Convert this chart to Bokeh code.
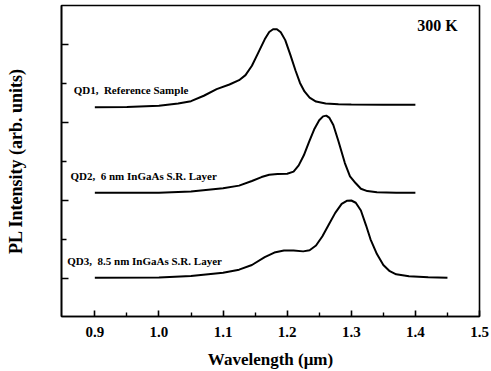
from bokeh.plotting import figure
from bokeh.models import FixedTicker, Range1d, Label, CustomJSTickFormatter
from bokeh.embed import file_html
from bokeh.resources import INLINE

# ---- data (curves are vertically stacked, arb. units) ----
qd1_x = [0.90, 0.95, 1.00, 1.03, 1.05, 1.07, 1.09, 1.11, 1.125, 1.135, 1.145, 1.155,
         1.165, 1.172, 1.178, 1.184, 1.19, 1.197, 1.205, 1.213, 1.22, 1.227, 1.235,
         1.245, 1.26, 1.28, 1.30, 1.35, 1.40]
qd1_y = [2.198, 2.200, 2.216, 2.245, 2.275, 2.345, 2.43, 2.49, 2.545, 2.61, 2.73, 2.90,
         3.07, 3.165, 3.20, 3.20, 3.16, 3.06, 2.87, 2.67, 2.51, 2.40, 2.32,
         2.27, 2.245, 2.235, 2.232, 2.23, 2.229]

qd2_x = [0.90, 1.00, 1.05, 1.10, 1.125, 1.145, 1.16, 1.172, 1.185, 1.20, 1.21, 1.218,
         1.226, 1.234, 1.242, 1.25, 1.256, 1.261, 1.266, 1.272, 1.28, 1.29, 1.298,
         1.307, 1.315, 1.325, 1.34, 1.37, 1.40]
qd2_y = [1.098, 1.100, 1.115, 1.155, 1.19, 1.25, 1.30, 1.33, 1.34, 1.342, 1.37, 1.45,
         1.58, 1.75, 1.91, 2.03, 2.08, 2.09, 2.06, 1.97, 1.76, 1.48, 1.31,
         1.22, 1.15, 1.12, 1.105, 1.10, 1.098]

qd3_x = [0.90, 1.00, 1.05, 1.10, 1.125, 1.145, 1.165, 1.18, 1.195, 1.21, 1.225, 1.235,
         1.245, 1.255, 1.265, 1.275, 1.285, 1.293, 1.30, 1.307, 1.315, 1.323, 1.33,
         1.34, 1.35, 1.36, 1.37, 1.39, 1.42, 1.45]
qd3_y = [0.005, 0.010, 0.030, 0.070, 0.11, 0.17, 0.27, 0.33, 0.355, 0.355, 0.345, 0.36,
         0.42, 0.54, 0.69, 0.84, 0.955, 0.995, 0.999, 0.97, 0.87, 0.68, 0.50,
         0.31, 0.17, 0.09, 0.05, 0.025, 0.012, 0.005]

x_ticks = [0.9, 1.0, 1.1, 1.2, 1.3, 1.4, 1.5]
x_tick_labels = ["0.9", "1.0", "1.1", "1.2", "1.3", "1.4", "1.5"]
x_minor = [0.95, 1.05, 1.15, 1.25, 1.35, 1.45]
y_ticks = [0, 1, 2, 3]
y_minor = [0.5, 1.5, 2.5]

labels = ["QD1,\u00a0\u00a0Reference Sample",
          "QD2,\u00a0\u00a06 nm InGaAs S.R. Layer",
          "QD3,\u00a0\u00a08.5 nm InGaAs S.R. Layer"]
temp_label = "300 K"

FONT = "Liberation Serif"

p = figure(width=491, height=371, output_backend="svg", toolbar_location=None,
           x_range=Range1d(0.848, 1.5), y_range=Range1d(-0.492, 3.505),
           min_border_left=61, min_border_right=12, min_border_top=5, min_border_bottom=55)
p.background_fill_color = "white"
p.border_fill_color = "white"
p.xgrid.visible = False
p.ygrid.visible = False
p.outline_line_color = "black"
p.outline_line_width = 1.6

for xs, ys in [(qd1_x, qd1_y), (qd2_x, qd2_y), (qd3_x, qd3_y)]:
    p.line(xs, ys, line_color="black", line_width=2.0)

# x axis
xa = p.xaxis[0]
xa.ticker = FixedTicker(ticks=x_ticks, minor_ticks=x_minor)
xa.major_label_overrides = dict(zip(x_ticks, x_tick_labels))
xa.major_tick_in = 6
xa.major_tick_out = 0
xa.minor_tick_in = 4
xa.minor_tick_out = 0
xa.axis_line_width = 1.6
xa.major_tick_line_width = 1.6
xa.minor_tick_line_width = 1.4
xa.major_label_standoff = 10
xa.major_label_text_font = FONT
xa.major_label_text_font_style = "bold"
xa.major_label_text_font_size = "15px"
xa.major_label_text_color = "black"
xa.axis_label = "Wavelength (\u03bcm)"
xa.axis_label_text_font = FONT
xa.axis_label_text_font_style = "bold"
xa.axis_label_text_font_size = "17px"
xa.axis_label_text_color = "black"
xa.axis_label_standoff = 10

# y axis
ya = p.yaxis[0]
ya.ticker = FixedTicker(ticks=y_ticks, minor_ticks=y_minor)
ya.formatter = CustomJSTickFormatter(code="return ''")
ya.major_tick_in = 7
ya.major_tick_out = 0
ya.minor_tick_in = 5
ya.minor_tick_out = 0
ya.axis_line_width = 1.6
ya.major_tick_line_width = 1.6
ya.minor_tick_line_width = 1.4
ya.major_label_standoff = 0
ya.major_label_text_font_size = "1px"
ya.axis_label = "PL Intensity (arb. units)"
ya.axis_label_text_font = FONT
ya.axis_label_text_font_style = "bold"
ya.axis_label_text_font_size = "18px"
ya.axis_label_text_color = "black"
ya.axis_label_standoff = 36

# curve labels
for txt, lx, ly in zip(labels, [0.867, 0.862, 0.857], [2.425, 1.311, 0.215]):
    p.add_layout(Label(x=lx, y=ly, text=txt, text_font=FONT, text_font_style="bold",
                       text_font_size="11px", text_baseline="middle", text_color="black"))

p.add_layout(Label(x=1.403, y=3.246, text=temp_label, text_font=FONT, text_font_style="bold",
                   text_font_size="16px", text_baseline="middle", text_color="black"))

open("out.html", "w").write(file_html(p, INLINE))
